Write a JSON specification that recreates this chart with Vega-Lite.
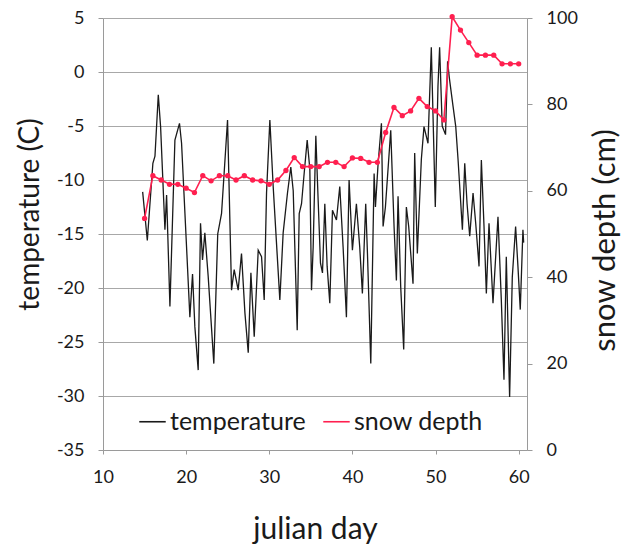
{
  "$schema": "https://vega.github.io/schema/vega-lite/v6.json",
  "width": 424,
  "height": 432,
  "autosize": {"type": "none"},
  "padding": {"left": 103, "top": 18, "right": 104, "bottom": 94},
  "background": "white",
  "config": {
    "view": {"stroke": null},
    "font": "Lato",
    "axis": {"labelFont": "Lato", "titleFont": "Lato", "labelColor": "#1a1a1a", "titleColor": "#1a1a1a", "titleFontWeight": "normal"},
    "legend": {"labelFont": "Lato"}
  },
  "datasets": {
    "temp": [
      {"day": 14.77, "temp": -11.1}, {"day": 15.33, "temp": -15.6}, {"day": 16.0, "temp": -8.45}, {"day": 16.25, "temp": -7.8},
      {"day": 16.65, "temp": -2.1}, {"day": 16.93, "temp": -5.1}, {"day": 17.45, "temp": -14.6}, {"day": 17.65, "temp": -11.4},
      {"day": 18.05, "temp": -21.7}, {"day": 18.65, "temp": -6.3}, {"day": 19.2, "temp": -4.75}, {"day": 19.45, "temp": -6.6},
      {"day": 20.05, "temp": -16.2}, {"day": 20.45, "temp": -22.7}, {"day": 20.77, "temp": -18.7}, {"day": 21.05, "temp": -23.6},
      {"day": 21.45, "temp": -27.6}, {"day": 21.73, "temp": -14.0}, {"day": 21.97, "temp": -17.4}, {"day": 22.25, "temp": -14.9},
      {"day": 22.65, "temp": -18.9}, {"day": 23.33, "temp": -27.0}, {"day": 23.8, "temp": -15.0}, {"day": 24.26, "temp": -13.1},
      {"day": 24.98, "temp": -4.45}, {"day": 25.26, "temp": -13.7}, {"day": 25.46, "temp": -20.2}, {"day": 25.78, "temp": -18.3},
      {"day": 26.26, "temp": -20.2}, {"day": 26.66, "temp": -16.8}, {"day": 27.07, "temp": -22.3}, {"day": 27.47, "temp": -26.0},
      {"day": 27.79, "temp": -18.6}, {"day": 28.19, "temp": -24.5}, {"day": 28.67, "temp": -16.5}, {"day": 29.07, "temp": -17.1},
      {"day": 29.39, "temp": -21.1}, {"day": 29.67, "temp": -11.2}, {"day": 30.07, "temp": -4.45}, {"day": 30.47, "temp": -10.6},
      {"day": 31.27, "temp": -21.1}, {"day": 31.67, "temp": -14.9}, {"day": 32.19, "temp": -11.2}, {"day": 32.59, "temp": -8.8},
      {"day": 32.88, "temp": -11.0}, {"day": 33.36, "temp": -23.9}, {"day": 33.6, "temp": -13.1}, {"day": 33.88, "temp": -12.2},
      {"day": 34.16, "temp": -9.7}, {"day": 34.56, "temp": -6.3}, {"day": 34.88, "temp": -9.0}, {"day": 35.08, "temp": -20.2},
      {"day": 35.28, "temp": -16.2}, {"day": 35.6, "temp": -5.9}, {"day": 35.88, "temp": -11.9}, {"day": 36.16, "temp": -17.7},
      {"day": 36.4, "temp": -18.6}, {"day": 36.68, "temp": -12.2}, {"day": 36.96, "temp": -18.0}, {"day": 37.28, "temp": -21.4},
      {"day": 37.6, "temp": -12.8}, {"day": 38.08, "temp": -13.7}, {"day": 38.48, "temp": -10.6}, {"day": 38.88, "temp": -16.2},
      {"day": 39.28, "temp": -22.7}, {"day": 39.6, "temp": -10.0}, {"day": 40.0, "temp": -16.5}, {"day": 40.48, "temp": -12.2},
      {"day": 40.88, "temp": -16.2}, {"day": 41.2, "temp": -20.5}, {"day": 41.6, "temp": -12.2}, {"day": 41.81, "temp": -16.8},
      {"day": 42.21, "temp": -27.0}, {"day": 42.61, "temp": -9.4}, {"day": 42.77, "temp": -12.5}, {"day": 43.09, "temp": -8.5},
      {"day": 43.49, "temp": -4.75}, {"day": 43.69, "temp": -14.3}, {"day": 43.97, "temp": -12.5}, {"day": 44.61, "temp": -5.4},
      {"day": 45.01, "temp": -14.3}, {"day": 45.29, "temp": -19.3}, {"day": 45.49, "temp": -11.5}, {"day": 45.81, "temp": -19.9},
      {"day": 46.17, "temp": -25.7}, {"day": 46.49, "temp": -12.5}, {"day": 46.77, "temp": -14.3}, {"day": 47.29, "temp": -19.6},
      {"day": 47.49, "temp": -7.5}, {"day": 47.81, "temp": -16.8}, {"day": 48.29, "temp": -8.1}, {"day": 48.61, "temp": -5.06},
      {"day": 49.09, "temp": -6.6}, {"day": 49.49, "temp": 2.3}, {"day": 49.97, "temp": -12.5}, {"day": 50.29, "temp": -1.35},
      {"day": 50.49, "temp": 2.3}, {"day": 50.8, "temp": -5.0}, {"day": 51.2, "temp": -5.8}, {"day": 51.45, "temp": 1.0},
      {"day": 51.65, "temp": -0.5}, {"day": 52.11, "temp": -3.2}, {"day": 52.43, "temp": -5.06}, {"day": 52.71, "temp": -8.15},
      {"day": 53.23, "temp": -14.6}, {"day": 53.51, "temp": -8.45}, {"day": 53.79, "temp": -12.2}, {"day": 54.11, "temp": -15.2},
      {"day": 54.51, "temp": -11.2}, {"day": 54.83, "temp": -14.0}, {"day": 55.23, "temp": -18.0}, {"day": 55.51, "temp": -8.15},
      {"day": 55.83, "temp": -14.3}, {"day": 56.11, "temp": -20.5}, {"day": 56.43, "temp": -14.0}, {"day": 56.91, "temp": -21.4},
      {"day": 57.51, "temp": -13.4}, {"day": 57.91, "temp": -21.1}, {"day": 58.23, "temp": -28.5}, {"day": 58.51, "temp": -17.1},
      {"day": 58.91, "temp": -30.1}, {"day": 59.23, "temp": -19.0}, {"day": 59.63, "temp": -14.3}, {"day": 59.91, "temp": -18.0},
      {"day": 60.19, "temp": -22.0}, {"day": 60.51, "temp": -14.6}, {"day": 60.6, "temp": -15.8}
    ],
    "snow": [
      {"day": 15, "snow": 53.6}, {"day": 16, "snow": 63.5}, {"day": 17, "snow": 62.5}, {"day": 18, "snow": 61.5},
      {"day": 19, "snow": 61.5}, {"day": 20, "snow": 60.6}, {"day": 21, "snow": 59.6}, {"day": 22, "snow": 63.5},
      {"day": 23, "snow": 62.3}, {"day": 24, "snow": 63.5}, {"day": 25, "snow": 63.5}, {"day": 26, "snow": 62.5},
      {"day": 27, "snow": 63.5}, {"day": 28, "snow": 62.5}, {"day": 29, "snow": 62.3}, {"day": 30, "snow": 61.5},
      {"day": 31, "snow": 62.5}, {"day": 32, "snow": 64.7}, {"day": 33, "snow": 67.7}, {"day": 34, "snow": 65.6},
      {"day": 35, "snow": 65.6}, {"day": 36, "snow": 65.6}, {"day": 37, "snow": 66.6}, {"day": 38, "snow": 66.6},
      {"day": 39, "snow": 65.6}, {"day": 40, "snow": 67.6}, {"day": 41, "snow": 67.5}, {"day": 42, "snow": 66.6},
      {"day": 43, "snow": 66.6}, {"day": 44, "snow": 73.5}, {"day": 45, "snow": 79.3}, {"day": 46, "snow": 77.4},
      {"day": 47, "snow": 78.5}, {"day": 48, "snow": 81.4}, {"day": 49, "snow": 79.5}, {"day": 50, "snow": 78.5},
      {"day": 51, "snow": 76.4}, {"day": 52, "snow": 100.3}, {"day": 53, "snow": 97.2}, {"day": 54, "snow": 94.3},
      {"day": 55, "snow": 91.4}, {"day": 56, "snow": 91.4}, {"day": 57, "snow": 91.4}, {"day": 58, "snow": 89.4},
      {"day": 59, "snow": 89.4}, {"day": 60, "snow": 89.4}
    ]
  },
  "encoding": {
    "x": {
      "field": "day", "type": "quantitative",
      "scale": {"domain": [10, 61], "nice": false, "zero": false},
      "axis": {
        "title": "julian day", "titleFontSize": 30, "titlePadding": 28,
        "values": [10, 20, 30, 40, 50, 60], "labelFontSize": 18, "labelPadding": 14,
        "tickSize": 4, "tickColor": "#9a9a9a", "domainColor": "#9a9a9a", "grid": false, "labelFlush": false
      }
    }
  },
  "layer": [
    {
      "data": {"name": "temp"},
      "mark": {"type": "line", "strokeWidth": 1.3, "interpolate": "linear"},
      "encoding": {
        "y": {
          "field": "temp", "type": "quantitative",
          "scale": {"domain": [-35, 5], "nice": false, "zero": false},
          "axis": {
            "title": "temperature (C)", "titleFontSize": 28, "titlePadding": 12, "titleY": 196,
            "values": [-35, -30, -25, -20, -15, -10, -5, 0, 5], "labelFontSize": 18, "labelPadding": 14,
            "labelExpr": "replace(datum.label, '\u2212', '-')",
            "tickSize": 5, "tickColor": "#9a9a9a", "domainColor": "#9a9a9a",
            "grid": true, "gridColor": "#a8a8a8", "gridWidth": 1
          }
        },
        "color": {
          "datum": "temperature",
          "scale": {"domain": ["temperature", "snow depth"], "range": ["#1a1a1a", "#ff1f4f"]},
          "legend": {
            "title": null, "orient": "none", "legendX": 35, "legendY": 389, "direction": "horizontal",
            "symbolType": "stroke", "symbolSize": 700, "symbolStrokeWidth": 1.6, "labelFontSize": 25,
            "labelColor": "#1a1a1a", "labelOffset": 3, "columnPadding": 14
          }
        }
      }
    },
    {
      "data": {"name": "snow"},
      "mark": {"type": "line", "strokeWidth": 1.6, "point": {"filled": true, "size": 28}},
      "encoding": {
        "y": {
          "field": "snow", "type": "quantitative",
          "scale": {"domain": [0, 100], "nice": false, "zero": false},
          "axis": {
            "orient": "right", "title": "snow depth (cm)", "titleFontSize": 31, "titlePadding": 44, "titleAngle": 270, "titleY": 222,
            "values": [0, 20, 40, 60, 80, 100], "labelFontSize": 18, "labelPadding": 14,
            "tickSize": 5, "tickColor": "#9a9a9a", "domainColor": "#9a9a9a", "grid": false
          }
        },
        "color": {"datum": "snow depth"}
      }
    }
  ],
  "resolve": {"scale": {"y": "independent"}}
}
